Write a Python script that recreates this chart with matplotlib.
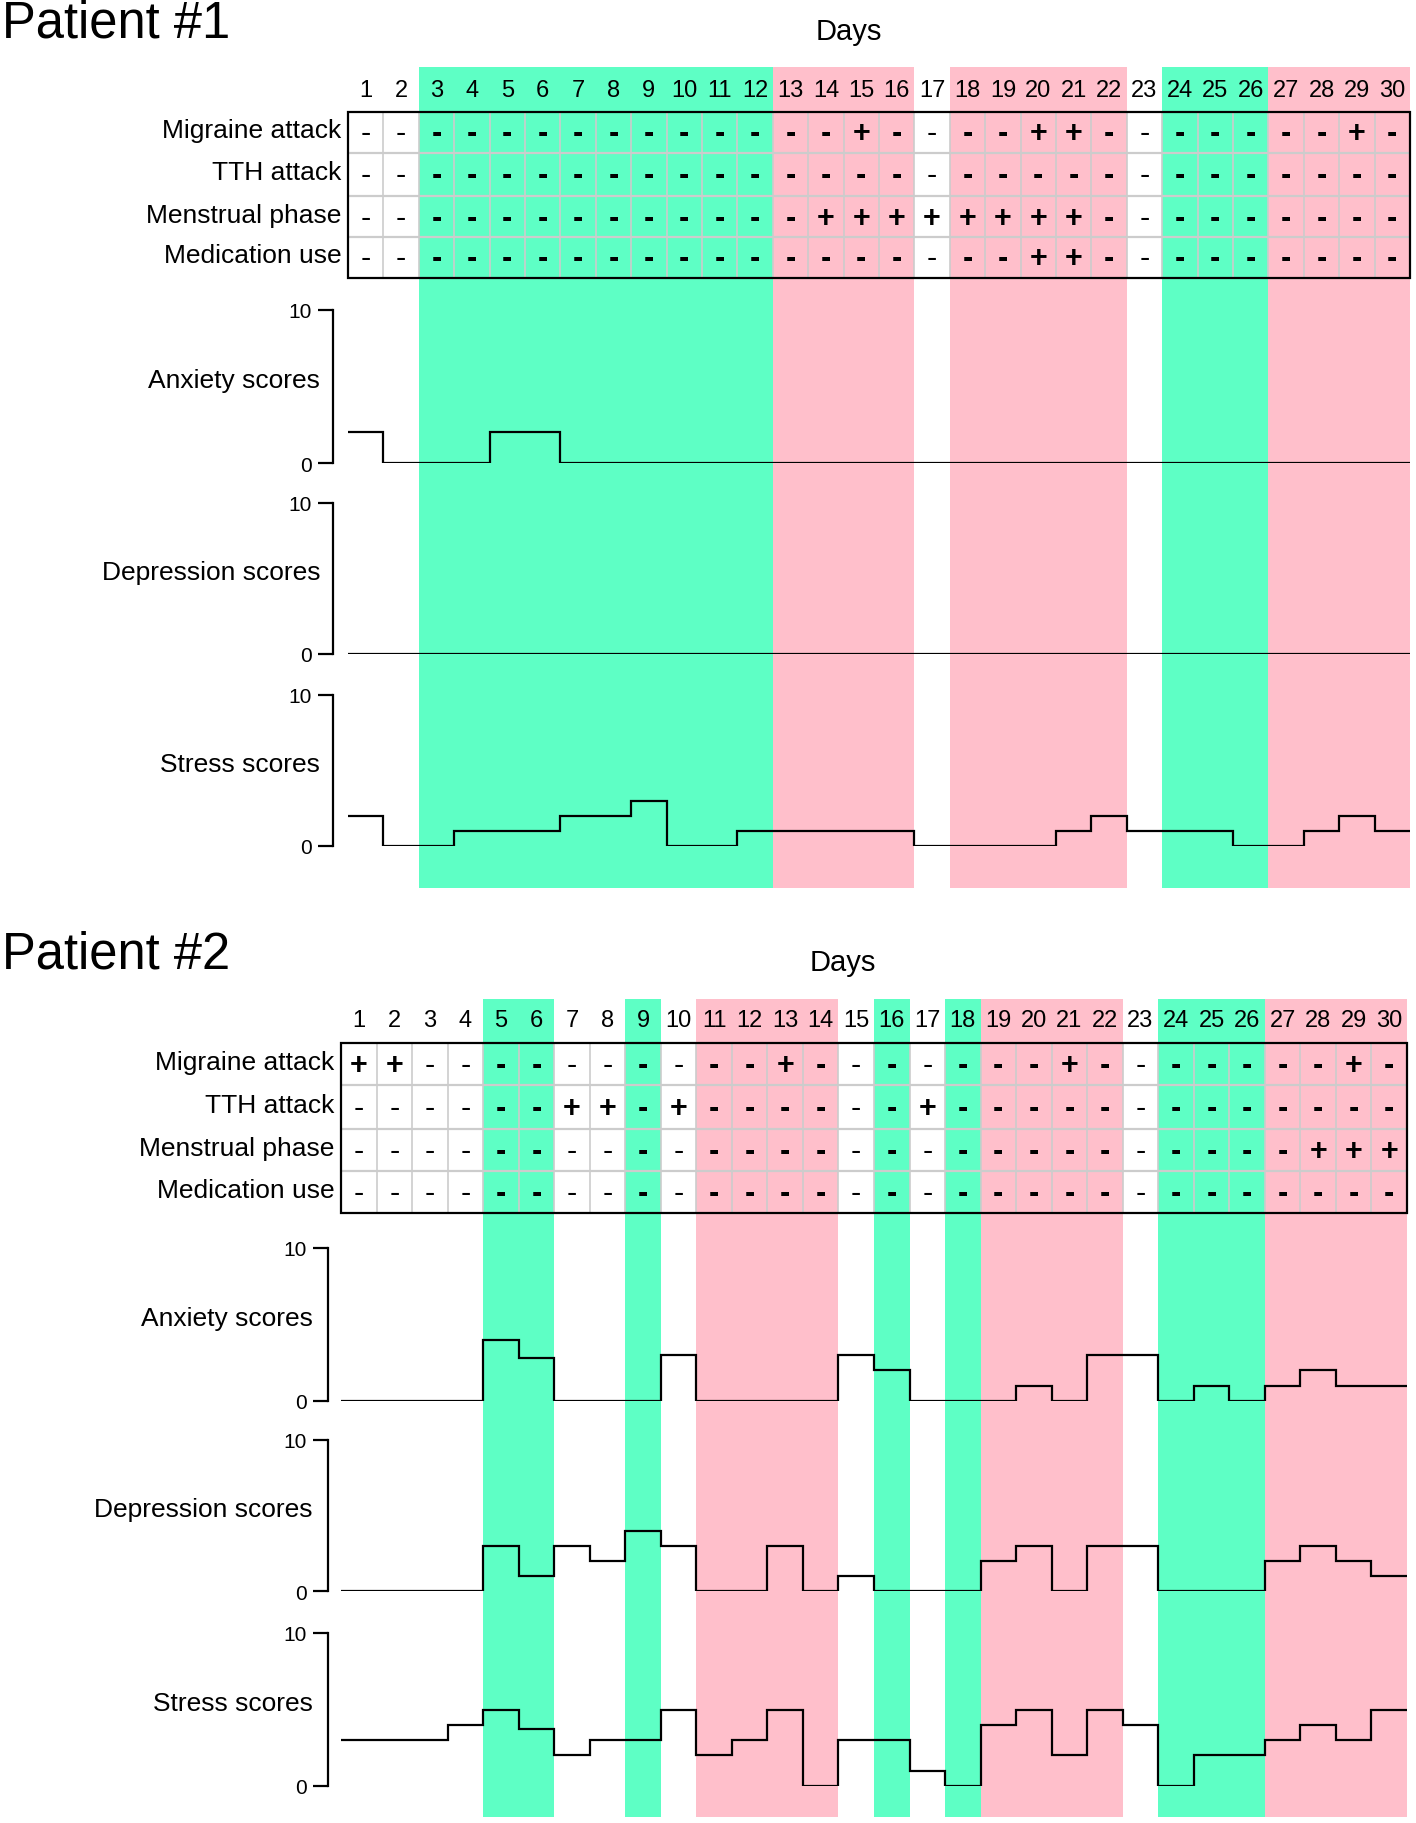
import numpy as np
import matplotlib
matplotlib.use("Agg")
import matplotlib.pyplot as plt
from matplotlib.patches import Rectangle

plt.rcParams['font.family'] = ['Liberation Sans', 'DejaVu Sans']

W, H = 1416, 1824

# ---- data ----
days = list(range(1, 31))
row_names = ['Migraine attack', 'TTH attack', 'Menstrual phase', 'Medication use']
score_names = ['Anxiety scores', 'Depression scores', 'Stress scores']

# shading of each day: w = none, g = green, p = pink
p1_shade = list('wwggggggggggppppwpppppwgggpppp')
p2_shade = list('wwwwggwwgwppppwgwgppppwgggpppp')

# days marked "+" in the table (all other days are "-")
p1_migraine = [15, 20, 21, 29]
p1_tth = []
p1_menstrual = [14, 15, 16, 17, 18, 19, 20, 21]
p1_medication = [20, 21]

p2_migraine = [1, 2, 13, 21, 29]
p2_tth = [7, 8, 10, 17]
p2_menstrual = [28, 29, 30]
p2_medication = []

# daily scores (0-10)
p1_anxiety = [2, 0, 0, 0, 2, 2, 0, 0, 0, 0, 0, 0, 0, 0, 0, 0, 0, 0, 0, 0, 0, 0, 0, 0, 0, 0, 0, 0, 0, 0]
p1_depression = [0, 0, 0, 0, 0, 0, 0, 0, 0, 0, 0, 0, 0, 0, 0, 0, 0, 0, 0, 0, 0, 0, 0, 0, 0, 0, 0, 0, 0, 0]
p1_stress = [2, 0, 0, 1, 1, 1, 2, 2, 3, 0, 0, 1, 1, 1, 1, 1, 0, 0, 0, 0, 1, 2, 1, 1, 1, 0, 0, 1, 2, 1]

p2_anxiety = [0, 0, 0, 0, 4, 2.8, 0, 0, 0, 3, 0, 0, 0, 0, 3, 2, 0, 0, 0, 1, 0, 3, 3, 0, 1, 0, 1, 2, 1, 1]
p2_depression = [0, 0, 0, 0, 3, 1, 3, 2, 4, 3, 0, 0, 3, 0, 1, 0, 0, 0, 2, 3, 0, 3, 3, 0, 0, 0, 2, 3, 2, 1]
p2_stress = [3, 3, 3, 4, 5, 3.7, 2, 3, 3, 5, 2, 3, 5, 0, 3, 3, 1, 0, 4, 5, 2, 5, 4, 0, 2, 2, 3, 4, 3, 5]

shade_colors = {'g': '#5effc5', 'p': '#ffbfcb'}
row_edges = [0, 0.245, 0.507, 0.753, 1.0]   # table row boundaries (fraction of height)

patients = [
    dict(title='Patient #1', shade=p1_shade,
         table=[p1_migraine, p1_tth, p1_menstrual, p1_medication],
         scores=[p1_anxiety, p1_depression, p1_stress],
         title_base=38, days_base=40, days_x=849, shade_top=68, shade_bot=889,
         num_base=97, tab_top=113, tab_bot=279, left=348, right=1410,
         spine_x=333, label_right=320,
         panels=[(311, 464), (504, 655), (696, 847)]),
    dict(title='Patient #2', shade=p2_shade,
         table=[p2_migraine, p2_tth, p2_menstrual, p2_medication],
         scores=[p2_anxiety, p2_depression, p2_stress],
         title_base=969, days_base=971, days_x=843, shade_top=1000, shade_bot=1818,
         num_base=1027, tab_top=1044, tab_bot=1214, left=341, right=1407,
         spine_x=328, label_right=313,
         panels=[(1249, 1402), (1441, 1592), (1634, 1787)]),
]


def box(l, t, r, b):
    return [l / W, 1 - b / H, (r - l) / W, (b - t) / H]


fig = plt.figure(figsize=(W / 100, H / 100), dpi=100)

for p in patients:
    colw = (p['right'] - p['left']) / 30.0
    fig.text(2 / W, 1 - p['title_base'] / H, p['title'], fontsize=36.5,
             va='baseline', ha='left')
    fig.text(p['days_x'] / W, 1 - p['days_base'] / H, 'Days', fontsize=21,
             va='baseline', ha='center')

    # background axes: x in days, y in pixels
    bg = fig.add_axes(box(p['left'], p['shade_top'], p['right'], p['shade_bot']))
    bg.set_xlim(0, 30)
    bg.set_ylim(p['shade_bot'], p['shade_top'])
    bg.axis('off')
    for d, s in zip(days, p['shade']):
        if s in shade_colors:
            bg.axvspan(d - 1, d, color=shade_colors[s], lw=0, zorder=0)

    # day numbers
    for d in days:
        bg.text(d - 0.5, p['num_base'], str(d), fontsize=17, ha='center',
                va='baseline')

    # table
    t0, t1 = p['tab_top'], p['tab_bot']
    ys = [t0 + (t1 - t0) * f for f in row_edges]
    bg.vlines(np.arange(1, 30), t0, t1, color='#cccccc', lw=1.2, zorder=1)
    bg.hlines(ys[1:-1], 0, 30, color='#cccccc', lw=1.6, zorder=1)
    bg.add_patch(Rectangle((0, t0), 30, t1 - t0, fill=False, ec='black',
                           lw=1.6, zorder=3, clip_on=False))
    for i, (name, plus) in enumerate(zip(row_names, p['table'])):
        cy = (ys[i] + ys[i + 1]) / 2
        bg.text(-0.18, cy + 5, name, fontsize=19, ha='right', va='baseline',
                clip_on=False)
        for d, s in zip(days, p['shade']):
            sign = '+' if d in plus else '-'
            bg.text(d - 0.5, cy + 9, sign, fontsize=22,
                    fontweight='bold' if (s != 'w' or sign == '+') else 'normal',
                    ha='center', va='baseline', zorder=4)

    # score panels
    for name, vals, (ytop, ybot) in zip(score_names, p['scores'], p['panels']):
        ax = fig.add_axes(box(p['left'], ytop, p['right'], ybot))
        ax.patch.set_alpha(0)
        ax.set_xlim(0, 30)
        ax.set_ylim(0, 10)
        ax.stairs(vals, np.arange(0, 31), baseline=None, color='black', lw=1.6)
        for sp in ['top', 'right', 'bottom']:
            ax.spines[sp].set_visible(False)
        ax.spines['left'].set_position(('data', (p['spine_x'] - p['left']) / colw))
        ax.spines['left'].set_linewidth(1.6)
        ax.set_xticks([])
        ax.set_yticks([0, 10])
        ax.set_yticklabels(['0', '10'])
        ax.tick_params(axis='y', length=11, width=1.6, pad=4.5, labelsize=15)
        ax.text((p['label_right'] - p['left']) / colw, 5.4, name, fontsize=19,
                ha='right', va='center', clip_on=False)

fig.savefig('out.png', dpi=100)
